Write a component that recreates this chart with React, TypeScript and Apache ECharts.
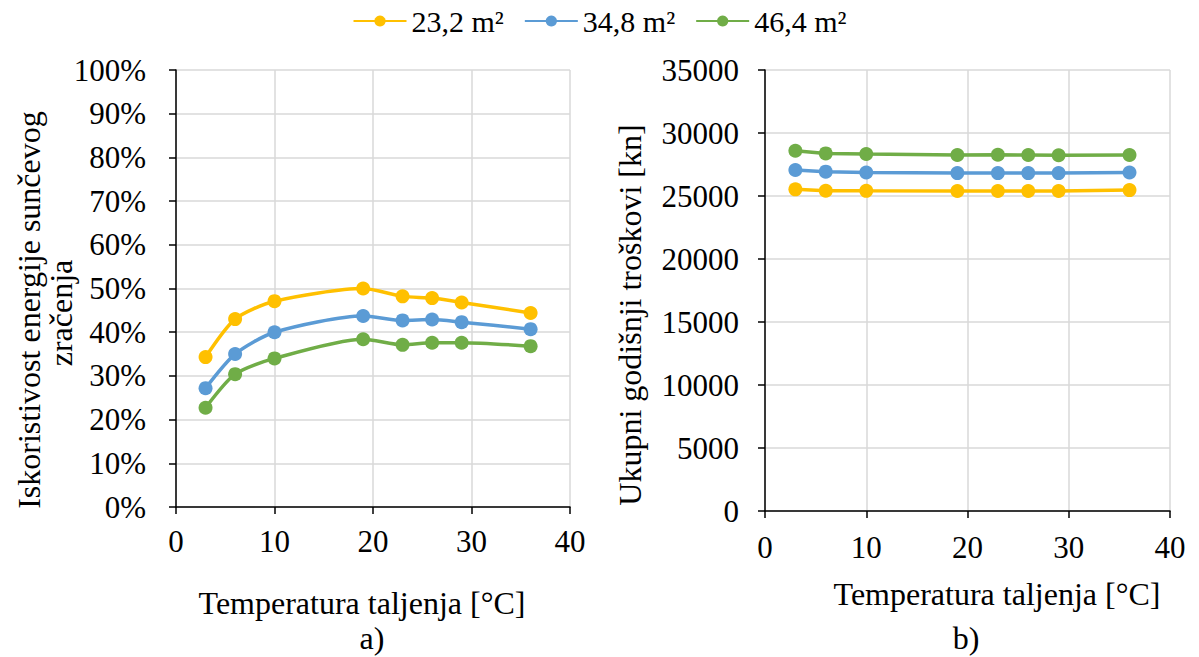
import React, { useEffect, useRef } from "react";
import * as echarts from "echarts";

const temps = [3, 6, 10, 19, 23, 26, 29, 36];
const seriesNames = ["23,2 m²", "34,8 m²", "46,4 m²"];
const colors = ["#FFC000", "#5B9BD5", "#70AD47"];

const eff232 = [34.3, 43.0, 47.1, 50.0, 48.2, 47.8, 46.8, 44.4];
const eff348 = [27.2, 35.0, 40.0, 43.7, 42.7, 42.9, 42.3, 40.7];
const eff464 = [22.7, 30.4, 34.0, 38.4, 37.1, 37.6, 37.6, 36.8];

const cost232 = [25530, 25420, 25410, 25400, 25400, 25400, 25400, 25470];
const cost348 = [27060, 26930, 26870, 26820, 26820, 26820, 26820, 26870];
const cost464 = [28590, 28380, 28330, 28250, 28270, 28250, 28230, 28250];

const FONT = "Liberation Serif";

export default function App() {
  const ref = useRef<HTMLDivElement>(null);
  useEffect(() => {
    document.body.style.margin = "0";
    const chart = echarts.init(ref.current!, null, { renderer: "svg" });
    const axisCommon = {
      axisLine: { show: true, lineStyle: { color: "#000", width: 1.5 } },
      axisTick: { show: true, inside: false, length: 7, lineStyle: { color: "#000", width: 1.5 } },
      splitLine: { show: true, lineStyle: { color: "#d9d9d9", width: 1.5 } },
    };
    const label = { color: "#000", fontFamily: FONT, fontSize: 31 };
    const mk = (name: string, data: number[], color: string, idx: number, smooth: boolean) => ({
      name,
      type: "line",
      xAxisIndex: idx,
      yAxisIndex: idx,
      data: temps.map((t, i) => [t, data[i]]),
      smooth: smooth ? 0.25 : false,
      symbol: "circle",
      symbolSize: 14,
      lineStyle: { color, width: 3.5 },
      itemStyle: { color },
    });
    const titleFont = `32px ${FONT}`;
    chart.setOption({
      animation: false,
      backgroundColor: "#fff",
      textStyle: { fontFamily: FONT },
      legend: {
        top: 1,
        left: "center",
        itemWidth: 53,
        itemHeight: 14,
        itemGap: 20,
        textStyle: { fontFamily: FONT, fontSize: 30, color: "#000" },
        data: seriesNames,
      },
      grid: [
        { left: 176, top: 70, width: 394, height: 437 },
        { left: 765, top: 70, width: 405, height: 441 },
      ],
      xAxis: [
        { type: "value", gridIndex: 0, min: 0, max: 40, interval: 10, ...axisCommon, axisLabel: { ...label, margin: 19 } },
        { type: "value", gridIndex: 1, min: 0, max: 40, interval: 10, ...axisCommon, axisLabel: { ...label, margin: 21 } },
      ],
      yAxis: [
        { type: "value", gridIndex: 0, min: 0, max: 100, interval: 10, ...axisCommon, axisLabel: { ...label, margin: 30, formatter: "{value}%" } },
        { type: "value", gridIndex: 1, min: 0, max: 35000, interval: 5000, ...axisCommon, axisLabel: { ...label, margin: 26, formatter: (v: number) => String(v) } },
      ],
      series: [
        mk(seriesNames[0], eff232, colors[0], 0, true),
        mk(seriesNames[1], eff348, colors[1], 0, true),
        mk(seriesNames[2], eff464, colors[2], 0, true),
        mk(seriesNames[0], cost232, colors[0], 1, false),
        mk(seriesNames[1], cost348, colors[1], 1, false),
        mk(seriesNames[2], cost464, colors[2], 1, false),
      ],
      graphic: [
        { type: "text", x: 29, y: 310, rotation: Math.PI / 2, style: { text: "Iskoristivost energije sunčevog", font: titleFont, fill: "#000", textAlign: "center", textVerticalAlign: "middle" } },
        { type: "text", x: 61, y: 313, rotation: Math.PI / 2, style: { text: "zračenja", font: titleFont, fill: "#000", textAlign: "center", textVerticalAlign: "middle" } },
        { type: "text", x: 630, y: 315, rotation: Math.PI / 2, style: { text: "Ukupni godišnji troškovi [kn]", font: titleFont, fill: "#000", textAlign: "center", textVerticalAlign: "middle" } },
        { type: "text", x: 362, y: 603, style: { text: "Temperatura taljenja [°C]", font: titleFont, fill: "#000", textAlign: "center", textVerticalAlign: "middle" } },
        { type: "text", x: 997, y: 594, style: { text: "Temperatura taljenja [°C]", font: titleFont, fill: "#000", textAlign: "center", textVerticalAlign: "middle" } },
        { type: "text", x: 372, y: 638, style: { text: "a)", font: titleFont, fill: "#000", textAlign: "center", textVerticalAlign: "middle" } },
        { type: "text", x: 966, y: 638, style: { text: "b)", font: titleFont, fill: "#000", textAlign: "center", textVerticalAlign: "middle" } },
      ],
    });
    return () => chart.dispose();
  }, []);
  return <div ref={ref} style={{ width: 1199, height: 657 }} />;
}
